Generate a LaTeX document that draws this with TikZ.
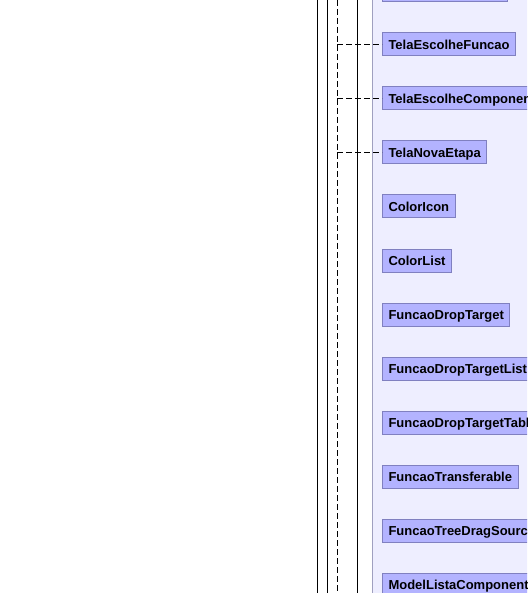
\documentclass[tikz,border=0pt]{standalone}
\usepackage{fontspec}
\setmainfont{Liberation Sans}
\usetikzlibrary{positioning}
\definecolor{classfill}{HTML}{B3B3FF}
\definecolor{classdraw}{HTML}{8080C0}
\definecolor{pkgfill}{HTML}{EEEEFF}
\definecolor{pkgdraw}{HTML}{A0A0C0}
\tikzstyle{classbox} = [rectangle, fill=classfill, draw=classdraw, line width=1pt, minimum height=23pt, inner xsep=6pt, text height=9.4pt, text depth=0pt, font=\fontsize{13}{15}\selectfont\bfseries, anchor=north west]
\tikzstyle{lifeline} = [line width=1pt]
\tikzstyle{dep} = [line width=1pt, dash pattern=on 6pt off 3pt]

\begin{document}
\begin{tikzpicture}[x=1pt, y=-1pt, node distance=30pt]
	\useasboundingbox (0,0) rectangle (527,593);
	\clip (0,0) rectangle (527,593);
	% package background
	\fill[pkgfill] (372,-2) rectangle (530,595);
	\draw[pkgdraw, line width=1pt] (372,-2) -- (372,595);
	% lifelines
	\coordinate (l1) at (317,0);
	\coordinate (l2) at (327,0);
	\coordinate (l3) at (337,0);
	\coordinate (l4) at (357,0);
	\draw[lifeline] (l1) -- ++(0,600);
	\draw[lifeline] (l2) -- ++(0,600);
	\draw[dep] (l3) -- ++(0,600);
	\draw[lifeline] (l4) -- ++(0,600);
	
	\node[classbox, minimum width=125pt] (prev) at (382,-21.5) {};
	\node[classbox, below=of prev.south west, anchor=north west] (funcao) {TelaEscolheFuncao};
	\node[classbox, below=of funcao.south west, anchor=north west] (componente) {TelaEscolheComponente};
	\node[classbox, below=of componente.south west, anchor=north west] (etapa) {TelaNovaEtapa};
	\node[classbox, below=of etapa.south west, anchor=north west] (icon) {ColorIcon};
	\node[classbox, below=of icon.south west, anchor=north west] (list) {ColorList};
	\node[classbox, below=of list.south west, anchor=north west] (target) {FuncaoDropTarget};
	\node[classbox, below=of target.south west, anchor=north west] (targetlist) {FuncaoDropTargetList};
	\node[classbox, below=of targetlist.south west, anchor=north west] (targettable) {FuncaoDropTargetTable};
	\node[classbox, below=of targettable.south west, anchor=north west] (transf) {FuncaoTransferable};
	\node[classbox, below=of transf.south west, anchor=north west] (dragsource) {FuncaoTreeDragSource};
	\node[classbox, below=of dragsource.south west, anchor=north west] (model) {ModelListaComponentes};
	
	%dependencies
	\draw[dep] (funcao.west -| l3) -- (funcao.west);
	\draw[dep] (componente.west -| l3) -- (componente.west);
	\draw[dep] (etapa.west -| l3) -- (etapa.west);
\end{tikzpicture}
\end{document}
